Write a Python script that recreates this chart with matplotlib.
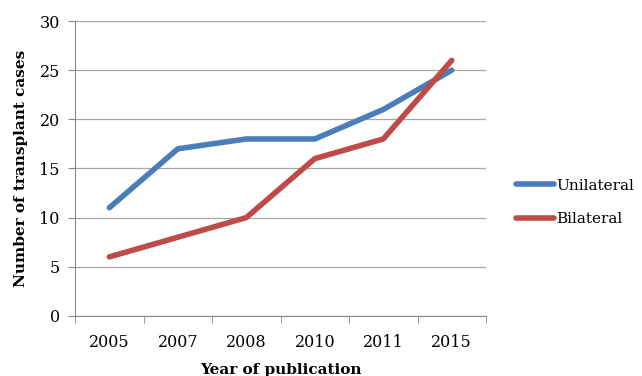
import matplotlib

matplotlib.use("Agg")

import matplotlib.pyplot as plt

years = ["2005", "2007", "2008", "2010", "2011", "2015"]
unilateral = [11, 17, 18, 18, 21, 25]
bilateral = [6, 8, 10, 16, 18, 26]

plt.rcParams["font.family"] = ["DejaVu Serif"]

fig = plt.figure(figsize=(6.42, 3.76), dpi=100)
ax = fig.add_axes([0.117, 0.16, 0.640, 0.784])

x = list(range(len(years)))
ax.plot(x, unilateral, color="#4A7EBB", lw=4, solid_capstyle="round", label="Unilateral")
ax.plot(x, bilateral, color="#BE4B48", lw=4, solid_capstyle="round", label="Bilateral")

ax.set_xlim(-0.5, len(years) - 0.5)
ax.set_ylim(0, 30)
ax.set_yticks(range(0, 31, 5))
ax.set_xticks(x)
ax.set_xticklabels(years)
ax.set_xticks([i - 0.5 for i in range(len(years) + 1)], minor=True)
ax.tick_params(axis="x", which="major", length=0, pad=13, labelsize=11.5)
ax.tick_params(axis="x", which="minor", length=5, color="#888888")
ax.tick_params(axis="y", length=5, color="#888888", labelsize=11.5, pad=6)

ax.grid(axis="y", color="#A6A6A6", lw=0.9)
ax.set_axisbelow(True)
for s in ["top", "right"]:
    ax.spines[s].set_visible(False)
for s in ["left", "bottom"]:
    ax.spines[s].set_color("#888888")

ax.set_xlabel("Year of publication", fontweight="bold", fontsize=11, labelpad=9)
ax.set_ylabel("Number of transplant cases", fontweight="bold", fontsize=11, labelpad=8)

ax.legend(loc="center left", bbox_to_anchor=(1.04, 0.385), frameon=False,
          handlelength=2.5, handletextpad=0.1, fontsize=11, labelspacing=1.25)

fig.savefig("out.png", dpi=100)
